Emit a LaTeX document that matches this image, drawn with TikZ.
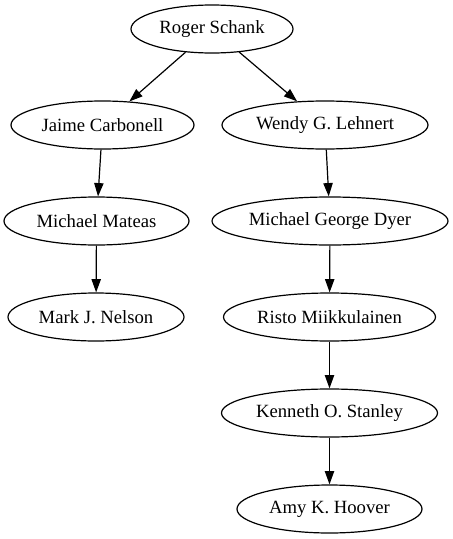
\documentclass[tikz,border=0pt]{standalone}
\usepackage{fontspec}
\setmainfont{Liberation Serif}
\usetikzlibrary{shapes.geometric,arrows.meta}
\begin{document}
\begin{tikzpicture}[x=0.75pt,y=-0.75pt,
  person/.style={ellipse,draw,line width=0.9pt,inner sep=0pt,minimum height=36pt,font=\fontsize{14pt}{16pt}\selectfont},
  edge/.style={-{Triangle[length=10pt,width=7pt]},line width=0.9pt}]
\useasboundingbox (0,0) rectangle (453,539);
\node[person,minimum width=121.5pt] (RS) at (212,29) {Roger Schank};
\node[person,minimum width=137.25pt] (JC) at (102.5,125) {Jaime Carbonell};
\node[person,minimum width=154.5pt] (WL) at (325,125) {Wendy G. Lehnert};
\node[person,minimum width=138.75pt] (MM) at (96.5,221) {Michael Mateas};
\node[person,minimum width=177pt] (MD) at (330,221) {Michael George Dyer};
\node[person,minimum width=132pt] (MN) at (96,317) {Mark J. Nelson};
\node[person,minimum width=159pt] (RM) at (329.5,317) {Risto Miikkulainen};
\node[person,minimum width=162pt] (KS) at (329.5,413) {Kenneth O. Stanley};
\node[person,minimum width=138.75pt] (AH) at (329.5,509) {Amy K. Hoover};
\draw[edge] (RS) -- (JC);
\draw[edge] (RS) -- (WL);
\draw[edge] (JC) -- (MM);
\draw[edge] (WL) -- (MD);
\draw[edge] (MM) -- (MN);
\draw[edge] (MD) -- (RM);
\draw[edge] (RM) -- (KS);
\draw[edge] (KS) -- (AH);
\end{tikzpicture}
\end{document}
